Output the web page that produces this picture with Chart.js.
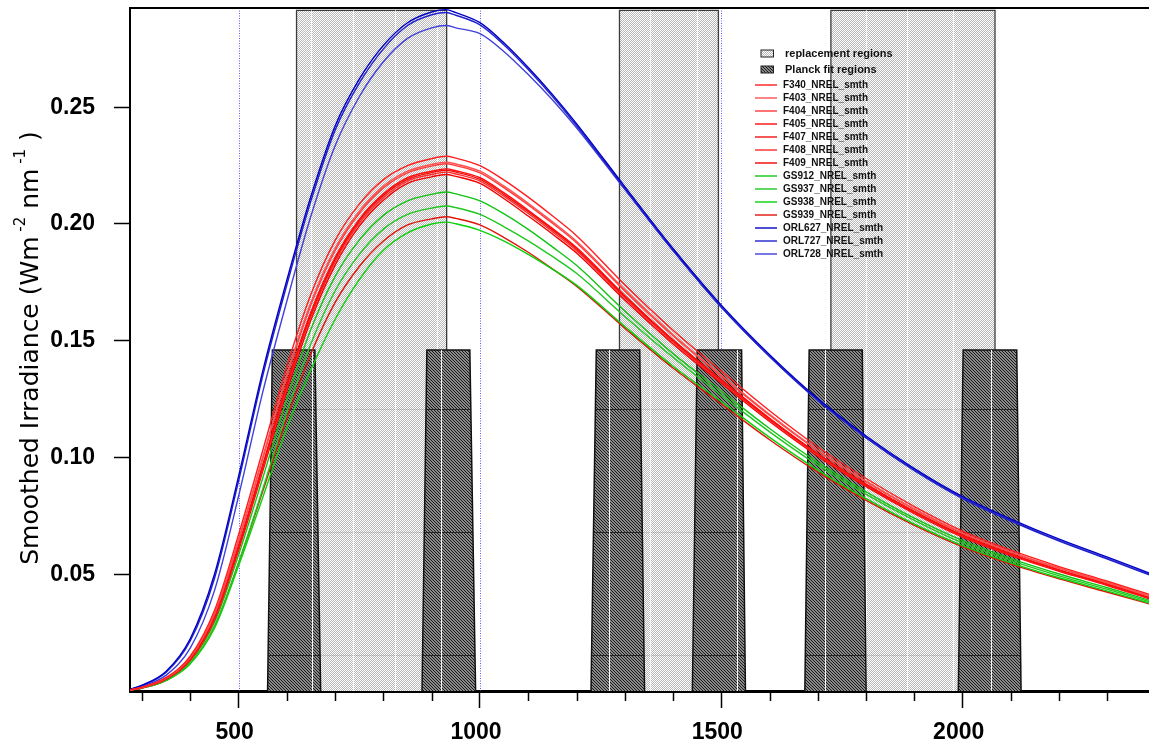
<!DOCTYPE html>
<html>
<head>
<meta charset="utf-8">
<script src="https://cdn.jsdelivr.net/npm/chart.js@4.4.1/dist/chart.umd.min.js"></script>
<style>
  html, body { margin: 0; padding: 0; background: #fff; }
  #wrap { width: 1149px; height: 744px; }
</style>
</head>
<body>
<div id="wrap"><canvas id="irr" width="1149" height="744"></canvas></div>
<script>
// wavelength (nm) at which the smoothed curves were read
const wavelengths = [276, 300, 350, 400, 450, 500, 550, 600, 650, 700, 750, 800, 850, 900, 930, 950, 1000, 1050, 1100, 1150, 1200, 1300, 1400, 1500, 1600, 1700, 1800, 1900, 2000, 2100, 2200, 2300, 2388];

const f340 = [0.0005, 0.0016, 0.0058, 0.0150, 0.0345, 0.0670, 0.1030, 0.1390, 0.1700, 0.1930, 0.2085, 0.2190, 0.2250, 0.2280, 0.2290, 0.2282, 0.2250, 0.2188, 0.2115, 0.2035, 0.1950, 0.1740, 0.1545, 0.1370, 0.1200, 0.1045, 0.0910, 0.0790, 0.0685, 0.0603, 0.0533, 0.0470, 0.0413];
const f403 = [0.0005, 0.0015, 0.0056, 0.0144, 0.0332, 0.0649, 0.1002, 0.1357, 0.1665, 0.1896, 0.2055, 0.2162, 0.2226, 0.2255, 0.2265, 0.2257, 0.2226, 0.2162, 0.2089, 0.2010, 0.1926, 0.1719, 0.1526, 0.1353, 0.1185, 0.1032, 0.0899, 0.0780, 0.0677, 0.0596, 0.0527, 0.0464, 0.0407];
const f404 = [0.0005, 0.0015, 0.0055, 0.0143, 0.0328, 0.0643, 0.0994, 0.1347, 0.1655, 0.1887, 0.2046, 0.2154, 0.2219, 0.2248, 0.2258, 0.2250, 0.2219, 0.2155, 0.2082, 0.2003, 0.1920, 0.1713, 0.1521, 0.1349, 0.1181, 0.1029, 0.0896, 0.0778, 0.0674, 0.0594, 0.0525, 0.0463, 0.0405];
const f405 = [0.0005, 0.0015, 0.0053, 0.0138, 0.0317, 0.0624, 0.0969, 0.1318, 0.1624, 0.1857, 0.2020, 0.2129, 0.2198, 0.2226, 0.2236, 0.2228, 0.2198, 0.2133, 0.2059, 0.1981, 0.1899, 0.1694, 0.1504, 0.1334, 0.1168, 0.1017, 0.0886, 0.0769, 0.0667, 0.0587, 0.0519, 0.0458, 0.0400];
const f407 = [0.0005, 0.0014, 0.0053, 0.0136, 0.0313, 0.0618, 0.0962, 0.1310, 0.1615, 0.1848, 0.2013, 0.2122, 0.2191, 0.2220, 0.2230, 0.2222, 0.2191, 0.2126, 0.2053, 0.1975, 0.1893, 0.1689, 0.1500, 0.1330, 0.1165, 0.1014, 0.0883, 0.0767, 0.0665, 0.0585, 0.0518, 0.0456, 0.0398];
const f408 = [0.0004, 0.0014, 0.0052, 0.0134, 0.0309, 0.0612, 0.0953, 0.1300, 0.1604, 0.1838, 0.2003, 0.2113, 0.2184, 0.2212, 0.2222, 0.2214, 0.2184, 0.2118, 0.2045, 0.1967, 0.1886, 0.1683, 0.1494, 0.1325, 0.1160, 0.1010, 0.0880, 0.0764, 0.0662, 0.0583, 0.0516, 0.0454, 0.0396];
const f409 = [0.0004, 0.0014, 0.0051, 0.0132, 0.0304, 0.0603, 0.0942, 0.1286, 0.1590, 0.1824, 0.1991, 0.2102, 0.2174, 0.2202, 0.2212, 0.2204, 0.2174, 0.2108, 0.2034, 0.1957, 0.1876, 0.1674, 0.1486, 0.1318, 0.1154, 0.1005, 0.0875, 0.0760, 0.0659, 0.0580, 0.0513, 0.0452, 0.0394];
const gs912 = [0.0004, 0.0014, 0.0049, 0.0128, 0.0293, 0.0583, 0.0912, 0.1251, 0.1550, 0.1776, 0.1931, 0.2037, 0.2099, 0.2127, 0.2137, 0.2129, 0.2099, 0.2043, 0.1977, 0.1902, 0.1823, 0.1627, 0.1445, 0.1284, 0.1124, 0.0979, 0.0853, 0.0740, 0.0644, 0.0567, 0.0501, 0.0442, 0.0388];
const gs937 = [0.0004, 0.0013, 0.0046, 0.0120, 0.0276, 0.0549, 0.0865, 0.1195, 0.1488, 0.1714, 0.1870, 0.1978, 0.2041, 0.2068, 0.2077, 0.2070, 0.2041, 0.1988, 0.1928, 0.1861, 0.1789, 0.1604, 0.1429, 0.1267, 0.1110, 0.0967, 0.0842, 0.0731, 0.0634, 0.0558, 0.0493, 0.0435, 0.0382];
const gs938 = [0.0004, 0.0012, 0.0045, 0.0117, 0.0269, 0.0536, 0.0829, 0.1126, 0.1377, 0.1592, 0.1762, 0.1888, 0.1962, 0.2000, 0.2008, 0.2001, 0.1973, 0.1927, 0.1870, 0.1807, 0.1738, 0.1561, 0.1391, 0.1240, 0.1086, 0.0946, 0.0824, 0.0715, 0.0623, 0.0549, 0.0485, 0.0428, 0.0376];
const gs939 = [0.0004, 0.0013, 0.0046, 0.0120, 0.0276, 0.0549, 0.0855, 0.1168, 0.1445, 0.1664, 0.1818, 0.1927, 0.1996, 0.2022, 0.2031, 0.2024, 0.1996, 0.1942, 0.1879, 0.1808, 0.1734, 0.1554, 0.1383, 0.1229, 0.1076, 0.0937, 0.0816, 0.0709, 0.0617, 0.0543, 0.0480, 0.0423, 0.0372];
const orl627 = [0.0008, 0.0025, 0.0085, 0.0225, 0.0500, 0.0920, 0.1370, 0.1760, 0.2120, 0.2420, 0.2620, 0.2765, 0.2862, 0.2908, 0.2918, 0.2905, 0.2862, 0.2775, 0.2670, 0.2555, 0.2430, 0.2160, 0.1895, 0.1652, 0.1440, 0.1252, 0.1092, 0.0952, 0.0832, 0.0736, 0.0650, 0.0573, 0.0504];
const orl727 = [0.0007, 0.0023, 0.0080, 0.0215, 0.0482, 0.0900, 0.1350, 0.1740, 0.2100, 0.2402, 0.2603, 0.2750, 0.2850, 0.2896, 0.2906, 0.2894, 0.2853, 0.2767, 0.2662, 0.2547, 0.2422, 0.2152, 0.1887, 0.1644, 0.1432, 0.1244, 0.1084, 0.0944, 0.0824, 0.0728, 0.0642, 0.0565, 0.0496];
const orl728 = [0.0006, 0.0020, 0.0068, 0.0185, 0.0430, 0.0835, 0.1280, 0.1670, 0.2035, 0.2335, 0.2545, 0.2695, 0.2795, 0.2840, 0.2850, 0.2840, 0.2815, 0.2738, 0.2640, 0.2532, 0.2412, 0.2148, 0.1886, 0.1643, 0.1433, 0.1245, 0.1086, 0.0947, 0.0828, 0.0731, 0.0645, 0.0568, 0.0499];

const lampNames = ["F340_NREL_smth", "F403_NREL_smth", "F404_NREL_smth", "F405_NREL_smth", "F407_NREL_smth", "F408_NREL_smth", "F409_NREL_smth", "GS912_NREL_smth", "GS937_NREL_smth", "GS938_NREL_smth", "GS939_NREL_smth", "ORL627_NREL_smth", "ORL727_NREL_smth", "ORL728_NREL_smth"];
const lampValues = [f340, f403, f404, f405, f407, f408, f409, gs912, gs937, gs938, gs939, orl627, orl727, orl728];
const lampColors = ["#ff1e1e", "#ff5050", "#ff3a3a", "#ff0a0a", "#f01010", "#ff2c2c", "#f20000", "#12c412", "#1ec81e", "#0ad20a", "#e01408", "#0000c4", "#2020cc", "#4040dc"];

// wavelength limits (nm) of the shaded regions
const replaceStart = [620, 1289, 1727];
const replaceEnd = [931, 1494, 2067];
const replaceTop = 0.2915;
const planckBottomStart = [560, 880, 1230, 1440, 1673, 1991];
const planckTopStart = [570, 890, 1241, 1450, 1682, 2001];
const planckTopEnd = [658, 979, 1331, 1542, 1792, 2112];
const planckBottomEnd = [670, 991, 1341, 1550, 1800, 2121];
const planckTop = 0.146;

// seams of the fill texture seen in the shaded regions
const lightSeams = [651, 737, 824, 910, 1352, 1449, 1799, 1884, 1979];
const darkSeams = [653, 919, 1268, 1533, 1714, 2058];
const seamLevels = [0.0154, 0.0681, 0.1208];

const xTicks = [500, 1000, 1500, 2000];
const xMinorTicks = [300, 400, 500, 600, 700, 800, 900, 1000, 1100, 1200, 1300, 1400, 1500, 1600, 1700, 1800, 1900, 2000, 2100, 2200, 2300];
const yTicks = [0.05, 0.10, 0.15, 0.20, 0.25];

const canvas = document.getElementById("irr");
const ctx = canvas.getContext("2d");

function makePattern(size, paint) {
  const tile = document.createElement("canvas");
  tile.width = size;
  tile.height = size;
  const g = tile.getContext("2d");
  for (let y = 0; y < size; y++) {
    for (let x = 0; x < size; x++) {
      g.fillStyle = paint(x, y);
      g.fillRect(x, y, 1, 1);
    }
  }
  return ctx.createPattern(tile, "repeat");
}

const lightFill = makePattern(2, (x, y) => ((x + y) % 2 ? "#b8b8b8" : "#ffffff"));
const darkFill = makePattern(3, (x, y) => ((x - y + 3) % 3 === 0 ? "#1a1a1a" : "#8a8a8a"));

const curveSets = lampNames.map((name, i) => ({
  label: name,
  data: wavelengths.map((w, j) => ({ x: w, y: lampValues[i][j] })),
  showLine: true,
  borderColor: lampColors[i],
  borderWidth: 1.4,
  pointRadius: 0,
  cubicInterpolationMode: "monotone",
  fill: false,
  order: 0,
}));

const replaceSets = replaceStart.map((s, i) => ({
  label: "replacement regions",
  regionKind: "light",
  data: [
    { x: s, y: 0 },
    { x: s, y: replaceTop },
    { x: replaceEnd[i], y: replaceTop },
    { x: replaceEnd[i], y: 0 },
  ],
  showLine: true,
  fill: "origin",
  backgroundColor: lightFill,
  borderColor: "#3c3c3c",
  borderWidth: 1.3,
  pointRadius: 0,
  tension: 0,
  order: 2,
}));

const planckSets = planckBottomStart.map((s, i) => ({
  label: "Planck fit regions",
  regionKind: "dark",
  data: [
    { x: s, y: 0 },
    { x: planckTopStart[i], y: planckTop },
    { x: planckTopEnd[i], y: planckTop },
    { x: planckBottomEnd[i], y: 0 },
  ],
  showLine: true,
  fill: "origin",
  backgroundColor: darkFill,
  borderColor: "#111111",
  borderWidth: 1.5,
  pointRadius: 0,
  tension: 0,
  order: 1,
}));

// dotted grid, texture seams, frame, minor ticks, axis title and legend
const decorations = {
  id: "decorations",
  beforeDatasetsDraw(chart) {
    const { ctx, chartArea: a, scales: { x } } = chart;
    ctx.save();
    ctx.strokeStyle = "#5a5aff";
    ctx.lineWidth = 1;
    ctx.setLineDash([1, 1.5]);
    xTicks.forEach((v) => {
      const px = Math.round(x.getPixelForValue(v)) + 0.5;
      ctx.beginPath();
      ctx.moveTo(px, a.top);
      ctx.lineTo(px, a.bottom);
      ctx.stroke();
    });
    ctx.restore();
  },
  afterDatasetDraw(chart, args) {
    const ds = chart.data.datasets[args.index];
    if (!ds.regionKind) return;
    const { ctx, chartArea: a, scales: { x, y } } = chart;
    const dark = ds.regionKind === "dark";
    ctx.save();
    ctx.beginPath();
    ds.data.forEach((p, k) => {
      const px = x.getPixelForValue(p.x);
      const py = y.getPixelForValue(p.y);
      if (k) ctx.lineTo(px, py);
      else ctx.moveTo(px, py);
    });
    ctx.closePath();
    ctx.clip();
    ctx.lineWidth = 1;
    ctx.strokeStyle = dark ? "rgba(25,25,25,0.85)" : "rgba(140,140,140,0.35)";
    seamLevels.forEach((v) => {
      const py = Math.round(y.getPixelForValue(v)) + 0.5;
      ctx.beginPath();
      ctx.moveTo(a.left, py);
      ctx.lineTo(a.right, py);
      ctx.stroke();
    });
    ctx.strokeStyle = dark ? "rgba(255,255,255,0.95)" : "rgba(255,255,255,0.8)";
    (dark ? darkSeams : lightSeams).forEach((v) => {
      const px = Math.round(x.getPixelForValue(v)) + 0.5;
      ctx.beginPath();
      ctx.moveTo(px, a.top);
      ctx.lineTo(px, a.bottom);
      ctx.stroke();
    });
    ctx.restore();
  },
  afterDraw(chart) {
    const { ctx, chartArea: a, scales: { x } } = chart;
    ctx.save();

    // top frame line
    ctx.strokeStyle = "#000";
    ctx.lineWidth = 2;
    ctx.beginPath();
    ctx.moveTo(a.left, a.top);
    ctx.lineTo(a.right, a.top);
    ctx.stroke();

    // short ticks every 100 nm
    ctx.lineWidth = 1.5;
    xMinorTicks.forEach((v) => {
      if (xTicks.includes(v)) return;
      const px = Math.round(x.getPixelForValue(v)) + 0.5;
      ctx.beginPath();
      ctx.moveTo(px, a.bottom);
      ctx.lineTo(px, a.bottom + 10);
      ctx.stroke();
    });

    // y axis title with superscripts
    const big = "25px 'DejaVu Sans'";
    const small = "15px 'DejaVu Sans'";
    const parts = [
      ["Smoothed Irradiance (Wm", big, 0],
      [" -2", small, -10],
      [" nm", big, 0],
      [" -1", small, -10],
      [" )", big, 0],
    ];
    let total = 0;
    parts.forEach((p) => {
      ctx.font = p[1];
      total += ctx.measureText(p[0]).width;
    });
    ctx.translate(31, 348);
    ctx.rotate(-Math.PI / 2);
    ctx.fillStyle = "#000";
    ctx.textBaseline = "middle";
    let cx = -total / 2;
    parts.forEach((p) => {
      ctx.font = p[1];
      ctx.fillText(p[0], cx, p[2]);
      cx += ctx.measureText(p[0]).width;
    });
    ctx.setTransform(1, 0, 0, 1, 0, 0);

    // legend
    ctx.textBaseline = "middle";
    ctx.font = "bold 11px 'Liberation Sans'";
    [["replacement regions", lightFill, 53.5], ["Planck fit regions", darkFill, 69.5]].forEach(([txt, pat, y]) => {
      ctx.fillStyle = pat;
      ctx.fillRect(761, y - 3.5, 12.5, 7);
      ctx.strokeStyle = "#222";
      ctx.lineWidth = 1;
      ctx.strokeRect(761, y - 3.5, 12.5, 7);
      ctx.fillStyle = "#111";
      ctx.fillText(txt, 785, y);
    });
    ctx.font = "bold 10px 'Liberation Sans'";
    lampNames.forEach((name, i) => {
      const y = 85 + 13 * i;
      ctx.strokeStyle = lampColors[i];
      ctx.lineWidth = 1.4;
      ctx.beginPath();
      ctx.moveTo(755, y);
      ctx.lineTo(777, y);
      ctx.stroke();
      ctx.fillStyle = "#111";
      ctx.fillText(name, 783, y);
    });
    ctx.restore();
  },
};

const tickFont = { family: "'Liberation Sans'", size: 23, weight: "bold" };

new Chart(ctx, {
  type: "scatter",
  data: { datasets: [...curveSets, ...planckSets, ...replaceSets] },
  options: {
    responsive: false,
    animation: false,
    events: [],
    layout: { padding: { top: 8, right: 0, left: 0, bottom: 0 } },
    plugins: { legend: { display: false }, tooltip: { enabled: false } },
    scales: {
      x: {
        type: "linear",
        min: 275,
        max: 2386,
        afterBuildTicks: (scale) => {
          scale.ticks = xTicks.map((v) => ({ value: v }));
        },
        afterFit: (scale) => {
          scale.height = 53;
          scale.paddingLeft = 0;
          scale.paddingRight = 0;
        },
        ticks: {
          autoSkip: false,
          maxRotation: 0,
          padding: 11,
          labelOffset: -4,
          color: "#000",
          font: tickFont,
          callback: (v) => String(v),
        },
        grid: {
          drawOnChartArea: false,
          drawTicks: true,
          tickLength: 17,
          tickWidth: 1.5,
          tickColor: "#000",
        },
        border: { display: true, color: "#000", width: 3 },
      },
      y: {
        type: "linear",
        min: 0,
        max: 0.2925,
        afterBuildTicks: (scale) => {
          scale.ticks = yTicks.map((v) => ({ value: v }));
        },
        afterFit: (scale) => {
          scale.width = 130;
          scale.paddingTop = 0;
          scale.paddingBottom = 0;
        },
        ticks: {
          autoSkip: false,
          padding: 19,
          color: "#000",
          font: tickFont,
          callback: (v) => v.toFixed(2),
        },
        grid: {
          drawOnChartArea: false,
          drawTicks: true,
          tickLength: 16,
          tickWidth: 1.5,
          tickColor: "#000",
        },
        border: { display: true, color: "#000", width: 2 },
      },
    },
  },
  plugins: [decorations],
});
</script>
</body>
</html>
